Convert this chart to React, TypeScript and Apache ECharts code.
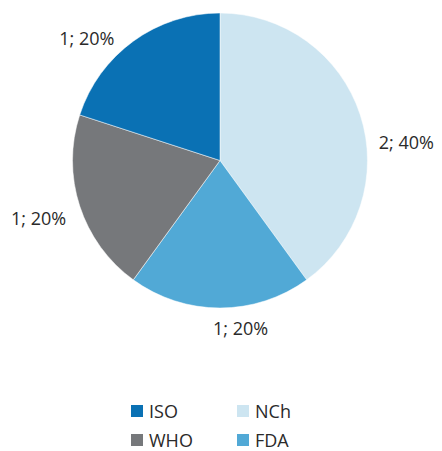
import React, { useEffect, useRef } from "react";
import * as echarts from "echarts";

const categories = ["NCh", "FDA", "WHO", "ISO"];
const values = [2, 1, 1, 1];
const colors = ["#cde5f1", "#51a9d6", "#76787b", "#0a71b4"];
const legendLeft = ["ISO", "WHO"];
const legendRight = ["NCh", "FDA"];

const FONT = "'Open Sans', 'Noto Sans', sans-serif";
// label nudges (style only), by slice index
const labelNudge: [number, number][] = [
  [4, 30],
  [-12, 10],
  [1, 9],
  [-8, 5],
];

export default function App() {
  const ref = useRef<HTMLDivElement>(null);
  useEffect(() => {
    document.body.style.margin = "0";
    const chart = echarts.init(ref.current!, null, { renderer: "svg" });
    const legendCommon = {
      type: "plain",
      orient: "vertical",
      top: 401,
      height: 70,
      icon: "rect",
      itemWidth: 14,
      itemHeight: 14,
      itemGap: 9,
      textStyle: { fontFamily: FONT, fontSize: 18, lineHeight: 20, color: "#2a2a2a" },
      padding: 0,
      selectedMode: false,
    };
    chart.setOption({
      animation: false,
      color: colors,
      legend: [
        { ...legendCommon, left: 129, data: legendLeft },
        { ...legendCommon, left: 235, data: legendRight },
      ],
      series: [
        {
          type: "pie",
          center: [220, 160.5],
          radius: 147.5,
          startAngle: 90,
          clockwise: true,
          avoidLabelOverlap: false,
          itemStyle: { borderColor: "#ffffff", borderWidth: 0.5 },
          label: {
            show: true,
            position: "outside",
            formatter: "{c}; {d}%",
            fontFamily: FONT,
            fontSize: 18,
            color: "#2a2a2a",
          },
          labelLine: { show: false, length: 10, length2: 0 },
          labelLayout: (p: any) => {
            const n = labelNudge[p.dataIndex] || [0, 0];
            return { dx: n[0], dy: n[1] };
          },
          data: categories.map((name, i) => ({ name, value: values[i] })),
        },
      ],
    });
    return () => chart.dispose();
  }, []);
  return <div ref={ref} style={{ width: 442, height: 451 }} />;
}
